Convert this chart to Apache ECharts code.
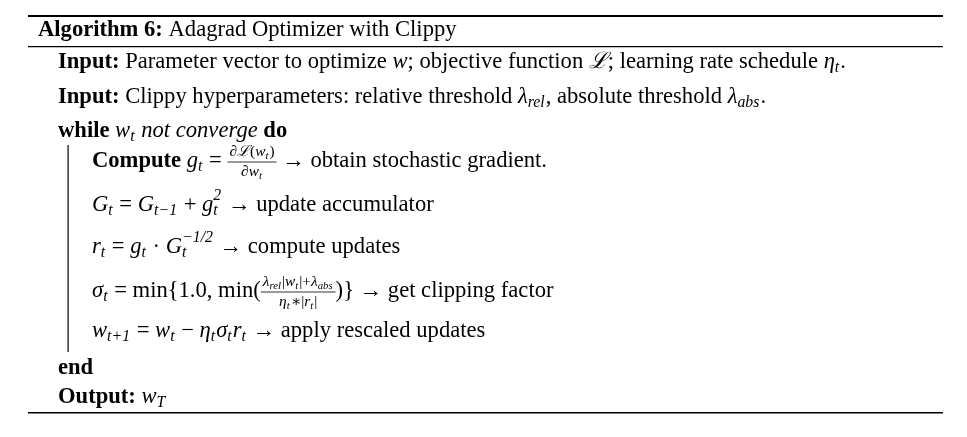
<!DOCTYPE html>
<html><head><meta charset="utf-8">
<script src="https://cdn.jsdelivr.net/npm/echarts@6/dist/echarts.min.js"></script>
<style>html,body{margin:0;background:#fff}#main{width:967px;height:437px}</style>
</head><body><div id="main"></div>
<script>
// text content of the algorithm box, one array per line
// segment kinds: b bold, n roman, i italic, s subscript, p superscript, f fraction
var title = [['b', 'Algorithm 6: '], ['n', 'Adagrad Optimizer with Clippy']];
var line1 = [['b', 'Input: '], ['n', 'Parameter vector to optimize '], ['i', 'w'], ['n', '; objective function '], ['i', 'ℒ'], ['n', '; learning rate schedule '], ['i', 'η'], ['s', 't'], ['n', '.']];
var line2 = [['b', 'Input: '], ['n', 'Clippy hyperparameters: relative threshold '], ['i', 'λ'], ['s', 'rel'], ['n', ', absolute threshold '], ['i', 'λ'], ['s', 'abs'], ['n', '.']];
var line3 = [['b', 'while '], ['i', 'w'], ['s', 't'], ['i', ' not converge '], ['b', 'do']];
var line4 = [['b', 'Compute '], ['i', 'g'], ['s', 't'], ['n', ' = '],
  ['f', [['i', '∂ℒ'], ['n', '('], ['i', 'w'], ['s', 't'], ['n', ')']], [['i', '∂w'], ['s', 't']]],
  ['n', ' → obtain stochastic gradient.']];
var line5 = [['i', 'G'], ['s', 't'], ['n', ' = '], ['i', 'G'], ['s', 't−1'], ['n', ' + '], ['i', 'g'], ['sp', 't', '2'], ['n', ' → update accumulator']];
var line6 = [['i', 'r'], ['s', 't'], ['n', ' = '], ['i', 'g'], ['s', 't'], ['n', ' · '], ['i', 'G'], ['sp', 't', '−1/2'], ['n', ' → compute updates']];
var line7 = [['i', 'σ'], ['s', 't'], ['n', ' = min{1.0, min('],
  ['f', [['i', 'λ'], ['s', 'rel'], ['n', '|'], ['i', 'w'], ['s', 't'], ['n', '|+'], ['i', 'λ'], ['s', 'abs']], [['i', 'η'], ['s', 't'], ['n', '∗|'], ['i', 'r'], ['s', 't'], ['n', '|']]],
  ['n', ')} → get clipping factor']];
var line8 = [['i', 'w'], ['s', 't+1'], ['n', ' = '], ['i', 'w'], ['s', 't'], ['n', ' − '], ['i', 'η'], ['s', 't'], ['i', 'σ'], ['s', 't'], ['i', 'r'], ['s', 't'], ['n', ' → apply rescaled updates']];
var line9 = [['b', 'end']];
var line10 = [['b', 'Output: '], ['i', 'w'], ['s', 'T']];

var rows = [
  [title, 38, 30], [line1, 58, 62], [line2, 58, 97], [line3, 58, 131],
  [line4, 92, 161], [line5, 92, 205], [line6, 92, 247], [line7, 92, 291], [line8, 92, 331],
  [line9, 58, 368], [line10, 58, 397]
];

var FAM = '"Liberation Serif", "DejaVu Serif", serif';
var SIZE = 22.6;
var ctx = document.createElement('canvas').getContext('2d');
function fontOf(kind, size) {
  var st = kind === 'b' ? 'bold ' : (kind === 'i' ? 'italic ' : '');
  return st + size + 'px ' + FAM;
}
function measure(t, f) { ctx.font = f; return ctx.measureText(t).width; }

// lays out a list of segments; returns width, pushes graphic elements when out given
function layout(segs, x, y, size, out) {
  var cx = x;
  segs.forEach(function (sg) {
    var k = sg[0];
    if (k === 'f') {
      var fs = size * 0.68;
      var wn = layout(sg[1], 0, 0, fs, null), wd = layout(sg[2], 0, 0, fs, null);
      var w = Math.max(wn, wd) + 4;
      if (out) {
        layout(sg[1], cx + (w - wn) / 2, y - size * 0.42, fs, out);
        layout(sg[2], cx + (w - wd) / 2, y + size * 0.5, fs, out);
        out.push({ type: 'line', shape: { x1: cx, y1: y + 1, x2: cx + w, y2: y + 1 }, style: { stroke: '#000', lineWidth: 0.8 } });
      }
      cx += w;
      return;
    }
    var small = size * 0.7;
    if (k === 's' || k === 'p' || k === 'sp') {
      var parts = k === 'sp' ? [['s', sg[1]], ['p', sg[2]]] : [[k, sg[1]]];
      var maxw = 0;
      parts.forEach(function (pp) {
        var f = fontOf('i', small);
        var tw = measure(pp[1], f);
        maxw = Math.max(maxw, tw);
        if (out) out.push({ type: 'text', style: { x: cx, y: y + (pp[0] === 's' ? size * 0.28 : -size * 0.42), text: pp[1], font: f, fill: '#000', verticalAlign: 'middle' } });
      });
      cx += maxw + 1;
      return;
    }
    var f2 = fontOf(k, size);
    if (out) out.push({ type: 'text', style: { x: cx, y: y, text: sg[1], font: f2, fill: '#000', verticalAlign: 'middle' } });
    cx += measure(sg[1], f2);
  });
  return cx - x;
}

var els = [
  { type: 'rect', shape: { x: 28, y: 15, width: 915, height: 2 }, style: { fill: '#000' } },
  { type: 'rect', shape: { x: 28, y: 46, width: 915, height: 1.2 }, style: { fill: '#000' } },
  { type: 'rect', shape: { x: 28, y: 412, width: 915, height: 1.5 }, style: { fill: '#000' } },
  { type: 'rect', shape: { x: 67.5, y: 145, width: 1.2, height: 207 }, style: { fill: '#000' } }
];
rows.forEach(function (r) { layout(r[0], r[1], r[2], SIZE, els); });

var chart = echarts.init(document.getElementById('main'));
chart.setOption({ backgroundColor: '#fff', animation: false, graphic: { elements: els } });
</script></body></html>
